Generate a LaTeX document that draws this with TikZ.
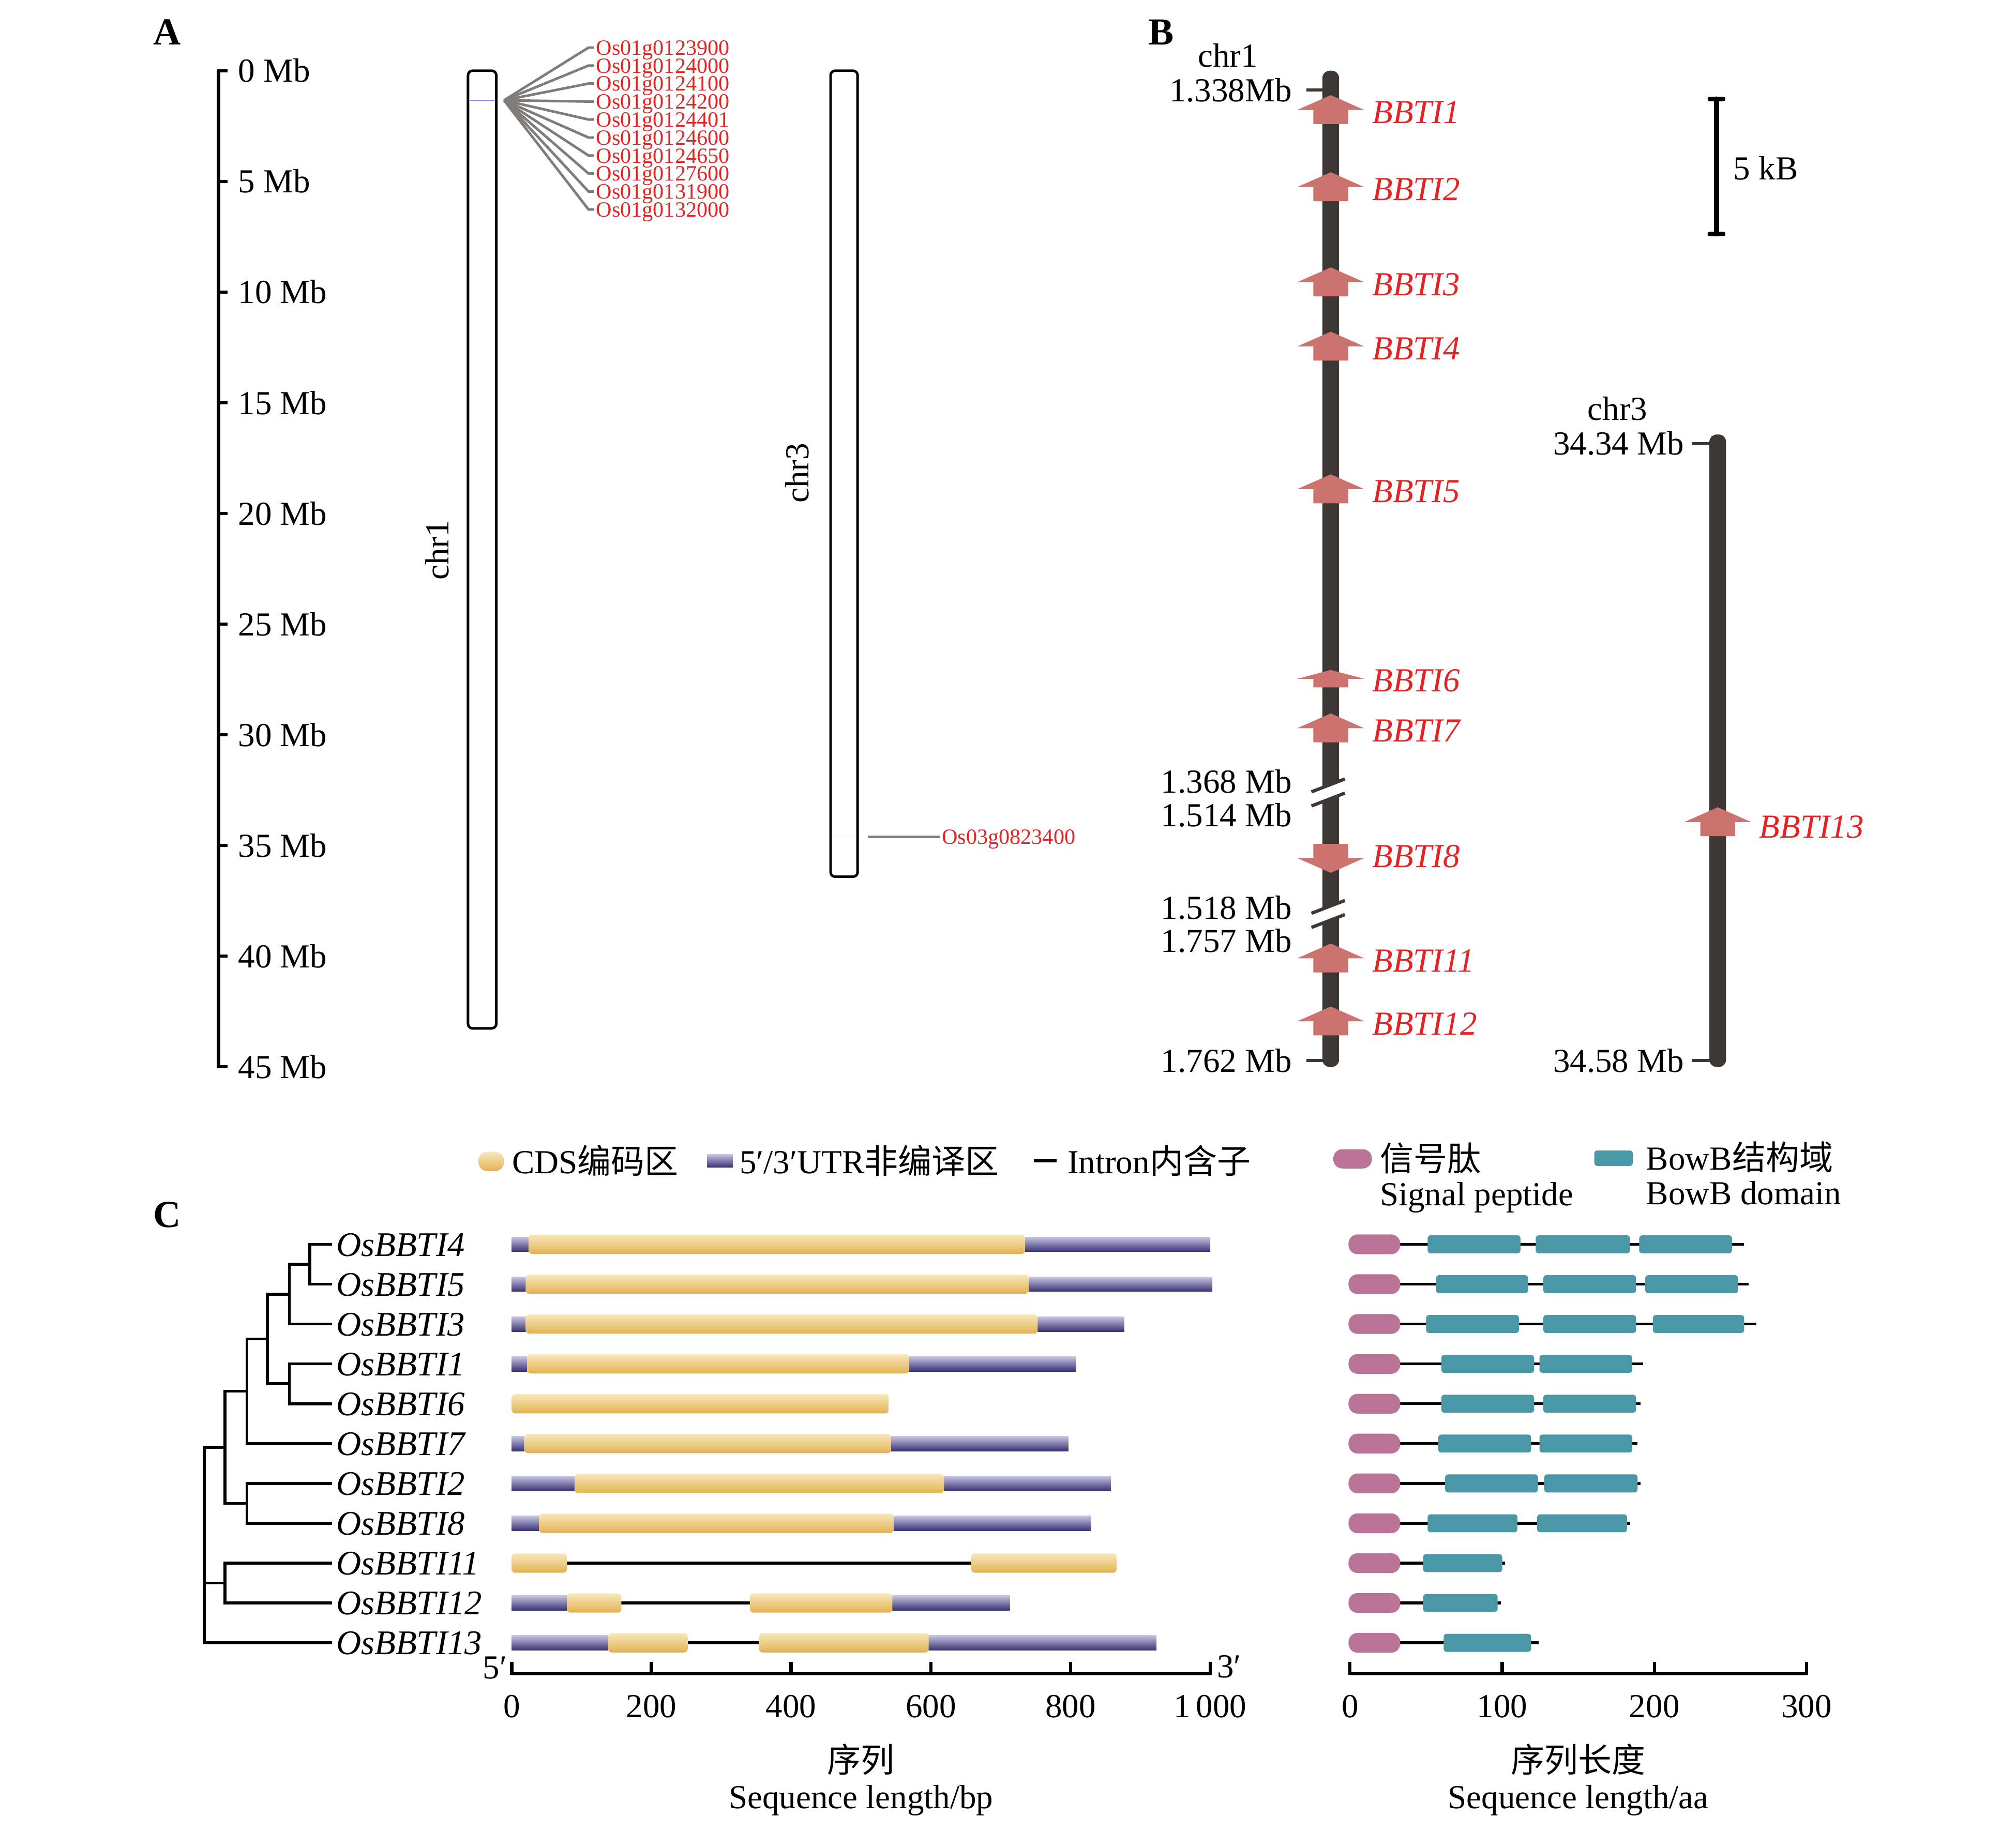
\documentclass[tikz,border=0pt]{standalone}
\usepackage{fontspec}
\setmainfont{Liberation Serif}
\newfontfamily\cjk{Noto Sans CJK SC}
\usepackage{tikz}
\usetikzlibrary{positioning, calc}

\definecolor{chrdark}{RGB}{62,56,53}
\definecolor{genered}{RGB}{226,36,36}
\definecolor{arrowpink}{RGB}{204,115,112}
\definecolor{fangray}{RGB}{128,124,122}
\definecolor{cdslight}{RGB}{248,232,186}
\definecolor{cdsdark}{RGB}{226,178,84}
\definecolor{utrlight}{RGB}{200,196,228}
\definecolor{utrdark}{RGB}{56,52,116}
\definecolor{sigpink}{RGB}{186,116,152}
\definecolor{bowteal}{RGB}{74,151,168}

\begin{document}
\begin{tikzpicture}[
    x=0.02486cm, y=-0.02486cm,
    font=\fontsize{18.5}{21}\selectfont,
    txt/.style={inner sep=0pt, text height=12.6pt, text depth=0pt},
    panel/.style={inner sep=0pt, font=\fontsize{21}{24}\selectfont\bfseries, text height=14pt, text depth=0pt},
    genelbl/.style={inner sep=1pt, text=genered, font=\fontsize{12}{12}\selectfont,
                    text height=8.1pt, text depth=0pt, anchor=west},
    bbtilbl/.style={inner sep=0pt, text=genered, font=\fontsize{18.5}{21}\selectfont\itshape,
                    text height=12.6pt, text depth=0pt, anchor=west},
    leaf/.style={inner xsep=3pt, inner ysep=0pt, font=\fontsize{19}{21}\selectfont\itshape,
                 text height=12.9pt, text depth=0pt, anchor=west},
    chrbox/.style={draw=black, line width=1.4pt, rounded corners=2.5pt},
    fanline/.style={draw=fangray, line width=1.4pt},
    axline/.style={line width=1.8pt},
    axtick/.style={line width=1.8pt},
    brk/.style={draw=chrdark, line width=1.8pt},
    treeline/.style={line width=1.6pt, line cap=rect},
    cds/.style={top color=cdslight, bottom color=cdsdark, rounded corners=2pt},
    utr/.style={top color=utrlight, bottom color=utrdark},
    intron/.style={line width=1.5pt},
    backbone/.style={line width=1.5pt},
    sigpep/.style={fill=sigpink, rounded corners=5pt},
    bowdomain/.style={fill=bowteal, rounded corners=1.5pt},
    genearrow/.pic={\fill[arrowpink] (-26,-1.5) -- (0,-13) -- (26,-1.5) -- (13.5,-1.5)
                     -- (13.5,9.5) -- (-13.5,9.5) -- (-13.5,-1.5) -- cycle;}
]
    \useasboundingbox (0,0) rectangle (1568,1425);

    % ---------- Panel A ----------
    \node[panel] (labA) at (130,25) {A};
    \draw[axline] (170,55) -- (170,830);
    \foreach \mbv [count=\k from 0] in {0,5,...,45} {
        \draw[axtick] (169,{55+86.1*\k}) -- (177,{55+86.1*\k});
        \node[txt, anchor=west] (mb\k) at (185,{55+86.1*\k}) {\mbv\ Mb};
    }

    % chromosomes
    \draw[chrbox] (364,55) rectangle (386,800);
    \draw[chrbox] (646,55) rectangle (667,682);
    \node[txt, rotate=90] (chrA1) at (340,428) {chr1};
    \node[txt, rotate=90] (chrA3) at (620,368) {chr3};
    \draw[blue!45, line width=0.5pt] (365,78) -- (385,78);
    \draw[black!12, line width=0.5pt] (647,651) -- (666,651);

    % gene fan on chr1
    \coordinate (fan) at (392,78);
    \foreach \id [count=\i] in {Os01g0123900,Os01g0124000,Os01g0124100,Os01g0124200,
        Os01g0124401,Os01g0124600,Os01g0124650,Os01g0127600,Os01g0131900,Os01g0132000} {
        \node[genelbl] (g\i) at (462,{37+14*(\i-1)}) {\id};
        \draw[fanline] (fan) -- ([xshift=-3pt]g\i.west) -- (g\i.west);
    }
    \coordinate (c3pos) at (675,651);
    \node[genelbl] (g11) at (731,651) {Os03g0823400};
    \draw[fanline] (c3pos) -- (g11.west);

    % ---------- Panel B ----------
    \node[panel] (labB) at (903,25) {B};
    \fill[chrdark, rounded corners=4pt] (1028.5,55) rectangle (1041.5,830);
    \fill[chrdark, rounded corners=4pt] (1329.5,338) rectangle (1342.5,830);

    \node[txt] (chrB1) at (955,43) {chr1};
    \node[txt] (chrB3) at (1258,318) {chr3};
    \foreach \yy/\lbl in {70/1.338Mb, 825/1.762 Mb} {
        \draw[brk] (1016,\yy) -- (1029,\yy);
        \node[txt, anchor=east] at (1005,\yy) {\lbl};
    }
    \foreach \yy/\lbl in {345/34.34 Mb, 825/34.58 Mb} {
        \draw[brk] (1316,\yy) -- (1330,\yy);
        \node[txt, anchor=east] at (1310,\yy) {\lbl};
    }

    % breaks in chr1
    \foreach \yy in {616,710.5} {
        \fill[white] (1019,\yy) -- (1047,{\yy-11}) -- (1047,\yy+1) -- (1019,{\yy+12}) -- cycle;
        \draw[brk] (1020,\yy) -- (1046,{\yy-10});
        \draw[brk] (1020,{\yy+11}) -- (1046,\yy+1);
    }
    \node[txt, anchor=east] (p1) at (1005,608) {1.368 Mb};
    \node[txt, anchor=east] (p2) at (1005,634) {1.514 Mb};
    \node[txt, anchor=east] (p3) at (1005,706) {1.518 Mb};
    \node[txt, anchor=east] (p4) at (1005,732) {1.757 Mb};

    % genes on chr1 and chr3
    \foreach \yy/\name in {87/1, 147/2, 221/3, 271/4, 382/5, 568/7, 747/11, 796/12} {
        \pic at (1035,\yy) {genearrow};
        \node[bbtilbl] (bb\name) at (1067,\yy) {BBTI\name};
    }
    \pic[yscale=0.6] at (1035,529) {genearrow};
    \node[bbtilbl] (bb6) at (1067,529) {BBTI6};
    \pic[yscale=-1] at (1035,666) {genearrow};
    \node[bbtilbl] (bb8) at (1067,666) {BBTI8};
    \pic at (1336,641) {genearrow};
    \node[bbtilbl] (bb13) at (1368,643) {BBTI13};

    % scale bar
    \draw[line width=2.8pt, line cap=round] (1335,77) -- (1335,182);
    \draw[line width=2.8pt, line cap=round] (1330,77) -- (1340,77);
    \draw[line width=2.8pt, line cap=round] (1330,182) -- (1340,182);
    \node[txt, anchor=west] (kb) at (1348,131) {5 kB};

    % ---------- Panel C ----------
    \node[panel] (labC) at (130,945) {C};

    % legends
    \path[cds, rounded corners=5pt] (372,896) rectangle (392,911);
    \node[txt, anchor=west] (lcds) at (398,904) {CDS{\cjk 编码区}};
    \path[utr] (550,898) rectangle (570,908);
    \node[txt, anchor=west] (lutr) at (575,904) {5′/3′UTR{\cjk 非编译区}};
    \draw[intron, line width=2pt] (804,903) -- (822,903);
    \node[txt, anchor=west] (lint) at (830,904) {Intron{\cjk 内含子}};
    \fill[sigpep] (1037,894) rectangle (1067,909);
    \node[txt, anchor=west] (lsig) at (1073,902) {{\cjk 信号肽}};
    \node[txt, anchor=west] (lsig2) at (1073,929) {Signal peptide};
    \fill[bowdomain] (1240,895) rectangle (1270,907);
    \node[txt, anchor=west] (ldom) at (1280,901) {BowB{\cjk 结构域}};
    \node[txt, anchor=west] (ldom2) at (1280,928) {BowB domain};

    % tree
    \foreach \num/\yy in {4/968, 5/999, 3/1030, 1/1061, 6/1092, 7/1123,
                          2/1154, 8/1185, 11/1216, 12/1247, 13/1278} {
        \node[leaf] (t\num) at (257,\yy) {OsBBTI\num};
    }
    \coordinate (n45) at (241,983.5);
    \coordinate (n345) at (225,1006.75);
    \coordinate (n16) at (225,1076.5);
    \coordinate (nA) at (208,1041.6);
    \coordinate (nB) at (192,1082.3);
    \coordinate (n28) at (192,1169.5);
    \coordinate (nC) at (175,1125.9);
    \coordinate (n1112) at (175,1231.5);
    \coordinate (root) at (159,1125.9);
    \draw[treeline] (n45) |- (t4.west) (n45) |- (t5.west);
    \draw[treeline] (n345) |- (n45) (n345) |- (t3.west);
    \draw[treeline] (n16) |- (t1.west) (n16) |- (t6.west);
    \draw[treeline] (nA) |- (n345) (nA) |- (n16);
    \draw[treeline] (nB) |- (nA) (nB) |- (t7.west);
    \draw[treeline] (n28) |- (t2.west) (n28) |- (t8.west);
    \draw[treeline] (nC) |- (nB) (nC) |- (n28);
    \draw[treeline] (n1112) |- (t11.west) (n1112) |- (t12.west);
    \draw[treeline] (root) -- (nC) (root) |- (n1112) (root) |- (t13.west);

    % gene structures
    \begin{scope}[shift={(398,0)}, x=0.0135cm]
        \foreach \yy/\a/\b in {1216/79/658, 1247/157/341, 1278/252/354}
            \draw[intron] (\a,\yy) -- (\b,\yy);
        \foreach \yy/\a/\b in {968/0/24, 968/735/1000, 999/0/20, 999/740/1003,
                1030/0/20, 1030/753/877, 1061/0/22, 1061/569/808, 1123/0/18, 1123/543/797,
                1154/0/90, 1154/619/858, 1185/0/39, 1185/547/829, 1247/0/79, 1247/545/713,
                1278/0/138, 1278/597/923}
            \path[utr] (\a,{\yy-5.8}) rectangle (\b,{\yy+5.8});
        \foreach \yy/\a/\b in {968/24/735, 999/20/740, 1030/20/753, 1061/22/569, 1092/0/540,
                1123/18/543, 1154/90/619, 1185/39/547, 1216/0/79, 1216/658/866,
                1247/79/157, 1247/341/545, 1278/138/252, 1278/354/597}
            \path[cds] (\a,{\yy-7.5}) rectangle (\b,{\yy+7.5});
        % axis
        \draw[axline] (0,1302) -- (1000,1302);
        \foreach \v/\lbl in {0/0, 200/200, 400/400, 600/600, 800/800, 1000/1\,000} {
            \draw[axtick] (\v,1303) -- (\v,1293);
            \node[txt] (bp\v) at (\v,1327) {\lbl};
        }
        \node[txt] (five) at (-24,1297) {5′};
        \node[txt] (three) at (1027,1296) {3′};
        \node[txt] (xcn1) at (500,1370) {{\cjk 序列}};
        \node[txt] (xen1) at (500,1398) {Sequence length/bp};
    \end{scope}

    % protein structures
    \begin{scope}[shift={(1050,0)}, x=0.029418cm]
        \foreach \yy/\e in {968/259, 999/262, 1030/267, 1061/192.5, 1092/191, 1123/189,
                1154/191, 1185/184, 1216/102, 1247/99, 1278/124}
            \draw[backbone] (20,\yy) -- (\e,\yy);
        \foreach \yy in {968,999,...,1278}
            \fill[sigpep] (-1,{\yy-7.7}) rectangle (33,{\yy+7.7});
        \foreach \yy/\a/\b in {968/51/112, 968/122/184, 968/190/251,
                999/56.5/117, 999/127/188, 999/194/255,
                1030/50/111, 1030/127/188, 1030/199/259,
                1061/60/121, 1061/124.5/185.5, 1092/60/121, 1092/127/188,
                1123/58/119, 1123/124.5/185.5, 1154/62.5/123.5, 1154/127.6/189,
                1185/51/110, 1185/123/182, 1216/48/100, 1247/48/97, 1278/61.5/119}
            \fill[bowdomain] (\a,{\yy-7}) rectangle (\b,{\yy+7});
        % axis
        \draw[axline] (0,1302) -- (300,1302);
        \foreach \v in {0,100,200,300} {
            \draw[axtick] (\v,1303) -- (\v,1293);
            \node[txt] (aa\v) at (\v,1327) {\v};
        }
        \node[txt] (xcn2) at (150,1370) {{\cjk 序列长度}};
        \node[txt] (xen2) at (150,1398) {Sequence length/aa};
    \end{scope}
\end{tikzpicture}
\end{document}
